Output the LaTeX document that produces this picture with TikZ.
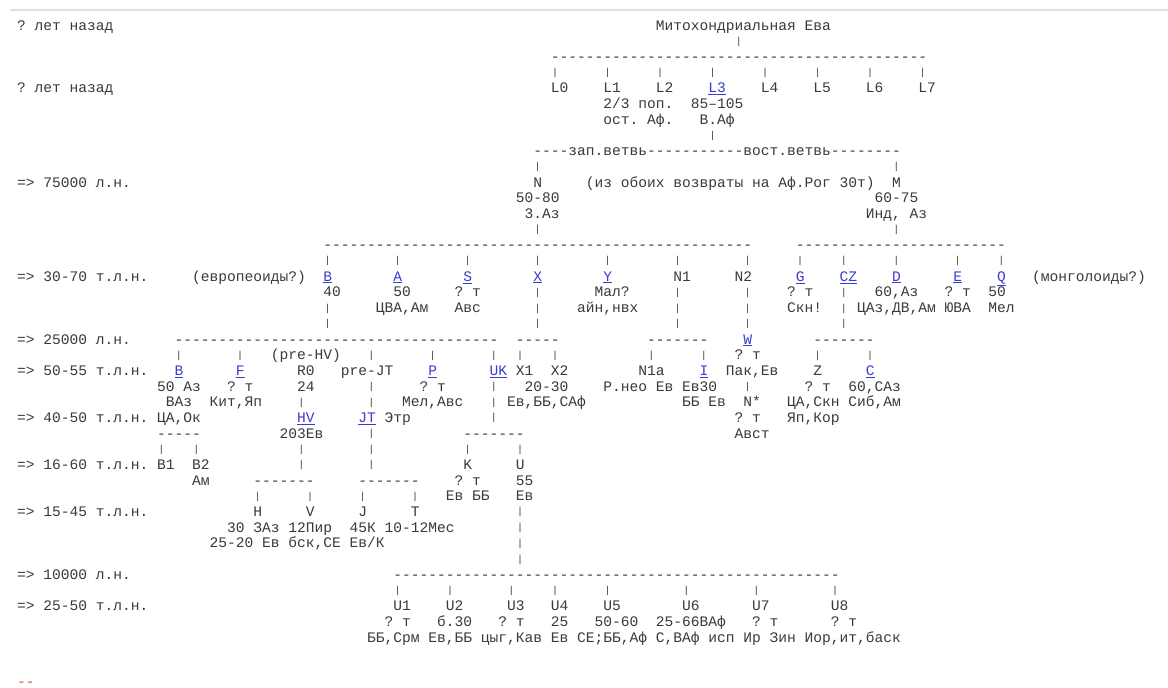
\documentclass[tikz,border=0pt]{standalone}
\usepackage{fontspec}
\setmonofont{Liberation Mono}
\usepackage{xcolor}
\definecolor{ink}{HTML}{3A3A3A}
\definecolor{linkblue}{HTML}{3C3CD2}
\definecolor{redmark}{HTML}{D8583C}
\definecolor{topline}{HTML}{E0E0E0}
\ExplSyntaxOn
\cs_new:Npn \dsh #1 { \prg_replicate:nn {#1} { - } }
\ExplSyntaxOff
\newcommand\lk[1]{\textcolor{linkblue}{\underline{#1}}}
\tikzset{
  tx/.style={anchor=base west, inner sep=0pt, text=ink,
    font=\fontsize{14.58}{16}\ttfamily},
  bar/.style={anchor=center, inner sep=0pt, text=ink,
    font=\fontsize{10}{10}\ttfamily}
}
\newcommand\tx[3]{\node[tx] (r#1c#2) at ({17+8.75*#2},{30.2+15.69*#1}) {#3};}
\newcommand\lkn[3]{\node[tx] (r#1c#2) at ({17+8.75*#2},{30.2+15.69*#1}) {\lk{#3}};}
\newcommand\brs[2]{\foreach \bcol in {#2}{\node[bar] (b#1c\bcol) at ({21.375+8.75*\bcol},{26+15.69*#1}) {|};}}
\begin{document}
\begin{tikzpicture}[x=1pt,y=-1pt]
\fill[white] (0,0) rectangle (1168,688);
\useasboundingbox (0,0) rectangle (1168,688);
\draw[line width=2pt, topline] (10,9.5) -- (1168,9.5);
% row 0-13
\tx{0}{0}{? лет назад}
\tx{0}{73}{Митохондриальная Ева}
\brs{1}{82}
\tx{2}{61}{\dsh{43}}
\brs{3}{61,67,73,79,85,91,97,103}
\tx{4}{0}{? лет назад}
\tx{4}{61}{L0} \tx{4}{67}{L1} \tx{4}{73}{L2} \lkn{4}{79}{L3} \tx{4}{85}{L4} \tx{4}{91}{L5} \tx{4}{97}{L6} \tx{4}{103}{L7}
\tx{5}{67}{2/3 поп.} \tx{5}{77}{85–105}
\tx{6}{67}{ост. Аф.} \tx{6}{78}{В.Аф}
\brs{7}{79}
\tx{8}{59}{\dsh{4}зап.ветвь\dsh{11}вост.ветвь\dsh{8}}
\brs{9}{59,100}
\tx{10}{0}{=> 75000 л.н.}
\tx{10}{59}{N} \tx{10}{65}{(из обоих возвраты на Аф.Рог 30т)} \tx{10}{100}{M}
\tx{11}{57}{50-80} \tx{11}{98}{60-75}
\tx{12}{58}{3.Аз} \tx{12}{97}{Инд, Аз}
\brs{13}{59,100}
% rows 14-19
\tx{14}{35}{\dsh{49}} \tx{14}{89}{\dsh{24}}
\brs{15}{35,43,51,59,67,75,83,89,94,100,107,112}
\tx{16}{0}{=> 30-70 т.л.н.} \tx{16}{20}{(европеоиды?)}
\lkn{16}{35}{B} \lkn{16}{43}{A} \lkn{16}{51}{S} \lkn{16}{59}{X} \lkn{16}{67}{Y}
\tx{16}{75}{N1} \tx{16}{82}{N2}
\lkn{16}{89}{G} \lkn{16}{94}{CZ} \lkn{16}{100}{D} \lkn{16}{107}{E} \lkn{16}{112}{Q}
\tx{16}{116}{(монголоиды?)}
\tx{17}{35}{40} \tx{17}{43}{50} \tx{17}{50}{? т} \brs{17}{59,75,83,94} \tx{17}{66}{Мал?}
\tx{17}{88}{? т} \tx{17}{98}{60,Аз} \tx{17}{106}{? т} \tx{17}{111}{50}
\brs{18}{35,59,75,83,94} \tx{18}{41}{ЦВА,Ам} \tx{18}{50}{Авс} \tx{18}{64}{айн,нвх}
\tx{18}{88}{Скн!} \tx{18}{96}{ЦАз,ДВ,Ам} \tx{18}{106}{ЮВА} \tx{18}{111}{Мел}
\brs{19}{35,59,75,83,94}
% rows 20-27
\tx{20}{0}{=> 25000 л.н.} \tx{20}{18}{\dsh{37}} \tx{20}{57}{\dsh{5}} \tx{20}{72}{\dsh{7}}
\lkn{20}{83}{W} \tx{20}{91}{\dsh{7}}
\brs{21}{18,25,40,47,54,57,61,72,78,91,97} \tx{21}{29}{(pre-HV)} \tx{21}{82}{? т}
\tx{22}{0}{=> 50-55 т.л.н.} \lkn{22}{18}{B} \lkn{22}{25}{F} \tx{22}{32}{R0} \tx{22}{37}{pre-JT}
\lkn{22}{47}{P} \lkn{22}{54}{UK} \tx{22}{57}{X1} \tx{22}{61}{X2} \tx{22}{71}{N1a} \lkn{22}{78}{I}
\tx{22}{81}{Пак,Ев} \tx{22}{91}{Z} \lkn{22}{97}{C}
\tx{23}{16}{50 Аз} \tx{23}{24}{? т} \tx{23}{32}{24} \brs{23}{40,54,83} \tx{23}{46}{? т}
\tx{23}{58}{20-30} \tx{23}{67}{Р.нео Ев Ев30} \tx{23}{90}{? т} \tx{23}{95}{60,САз}
\tx{24}{17}{ВАз} \tx{24}{22}{Кит,Яп} \brs{24}{32,40,54} \tx{24}{44}{Мел,Авс} \tx{24}{56}{Ев,ББ,САф}
\tx{24}{76}{ББ Ев} \tx{24}{83}{N*} \tx{24}{88}{ЦА,Скн} \tx{24}{95}{Сиб,Ам}
\tx{25}{0}{=> 40-50 т.л.н.} \tx{25}{16}{ЦА,Ок} \lkn{25}{32}{HV} \lkn{25}{39}{JT} \tx{25}{42}{Этр}
\brs{25}{54} \tx{25}{82}{? т} \tx{25}{88}{Яп,Кор}
\tx{26}{16}{\dsh{5}} \tx{26}{30}{203Ев} \brs{26}{40} \tx{26}{51}{\dsh{7}} \tx{26}{82}{Авст}
\brs{27}{16,20,32,40,51,57}
% rows 28-34
\tx{28}{0}{=> 16-60 т.л.н.} \tx{28}{16}{B1} \tx{28}{20}{B2} \brs{28}{32,40} \tx{28}{51}{K} \tx{28}{57}{U}
\tx{29}{20}{Ам} \tx{29}{27}{\dsh{7}} \tx{29}{39}{\dsh{7}} \tx{29}{50}{? т} \tx{29}{57}{55}
\brs{30}{27,33,39,45} \tx{30}{49}{Ев ББ} \tx{30}{57}{Ев}
\tx{31}{0}{=> 15-45 т.л.н.} \tx{31}{27}{H} \tx{31}{33}{V} \tx{31}{39}{J} \tx{31}{45}{T} \brs{31}{57}
\tx{32}{24}{30 ЗАз 12Пир~~45К 10-12Мес} \brs{32}{57}
\tx{33}{22}{25-20 Ев бск,СЕ Ев/К} \brs{33}{57}
\brs{34}{57}
% rows 35-42
\tx{35}{0}{=> 10000 л.н.} \tx{35}{43}{\dsh{51}}
\brs{36}{43,49,56,61,67,76,84,93}
\tx{37}{0}{=> 25-50 т.л.н.}
\tx{37}{43}{U1} \tx{37}{49}{U2} \tx{37}{56}{U3} \tx{37}{61}{U4} \tx{37}{67}{U5} \tx{37}{76}{U6} \tx{37}{84}{U7} \tx{37}{93}{U8}
\tx{38}{42}{? т} \tx{38}{48}{б.30} \tx{38}{55}{? т} \tx{38}{61}{25} \tx{38}{66}{50-60} \tx{38}{73}{25-66ВАф} \tx{38}{84}{? т} \tx{38}{93}{? т}
\tx{39}{40}{ББ,Срм Ев,ББ цыг,Кав Ев СЕ;ББ,Аф С,ВАф исп Ир Зин Иор,ит,баск}
\node[tx, text=redmark] (red) at (17,686) {\dsh{2}};
\end{tikzpicture}
\end{document}
